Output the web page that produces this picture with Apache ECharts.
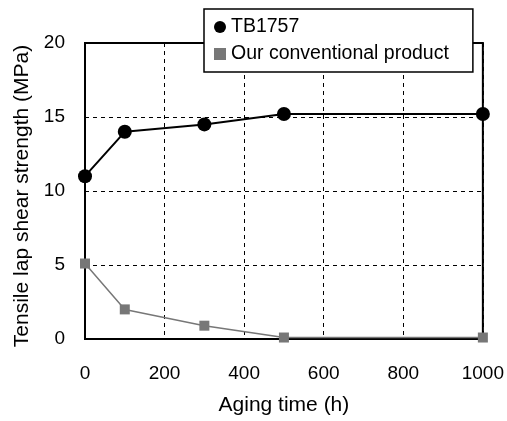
<!DOCTYPE html>
<html>
<head>
<meta charset="utf-8">
<script src="https://cdn.jsdelivr.net/npm/echarts@6/dist/echarts.min.js"></script>
<style>
  html, body { margin: 0; padding: 0; background: #fff; }
  #chart { width: 507px; height: 421px; }
</style>
</head>
<body>
<div id="chart"></div>
<script>
// data
const agingTime = [0, 100, 300, 500, 1000]
const tb1757 = [11.0, 14.0, 14.5, 15.2, 15.2]
const conventional = [5.1, 2.0, 0.9, 0.1, 0.1]
const seriesNames = ['TB1757', 'Our conventional product']

const chart = echarts.init(document.getElementById('chart'))
const font = 'Liberation Sans, Arial, sans-serif'

const pairs = (ys) => agingTime.map((x, i) => [x, ys[i]])

chart.setOption({
  animation: false,
  textStyle: { fontFamily: font },
  grid: {
    left: 85, right: 21, top: 43, bottom: 81,
    show: true, borderColor: '#000', borderWidth: 2, backgroundColor: 'transparent'
  },
  legend: {
    orient: 'vertical',
    left: 204, top: 9,
    padding: [7, 24, 7, 10],
    itemGap: 5,
    backgroundColor: '#fff',
    borderColor: '#000',
    borderWidth: 1.5,
    itemWidth: 12, itemHeight: 12,
    textStyle: { fontSize: 19.5, lineHeight: 22, color: '#000', fontFamily: font },
    data: [
      { name: seriesNames[0], icon: 'circle' },
      { name: seriesNames[1], icon: 'rect', itemStyle: { color: '#777' } }
    ]
  },
  xAxis: {
    type: 'value',
    min: 0, max: 1000, interval: 200,
    name: 'Aging time (h)',
    nameLocation: 'middle',
    nameGap: 56,
    nameTextStyle: { fontSize: 21, color: '#000', fontFamily: font },
    axisLine: { show: true, lineStyle: { color: '#000', width: 2 } },
    axisTick: { show: false },
    axisLabel: { fontSize: 19, color: '#000', margin: 25, fontFamily: font, formatter: (v) => String(v) },
    splitLine: { show: true, lineStyle: { color: '#000', type: [4, 4], width: 1 } }
  },
  yAxis: {
    type: 'value',
    min: 0, max: 20, interval: 5,
    name: 'Tensile lap shear strength (MPa)',
    nameLocation: 'middle',
    nameGap: 52,
    nameTextStyle: { fontSize: 21, color: '#000', fontFamily: font, padding: [0, 10, 0, 0] },
    axisLine: { show: true, lineStyle: { color: '#000', width: 2 } },
    axisTick: { show: false },
    axisLabel: { fontSize: 19, color: '#000', margin: 20, fontFamily: font },
    splitLine: { show: true, lineStyle: { color: '#000', type: [4, 4], width: 1 } }
  },
  series: [
    {
      name: seriesNames[0],
      type: 'line',
      data: pairs(tb1757),
      clip: false,
      z: 4,
      symbol: 'circle',
      symbolSize: 14,
      itemStyle: { color: '#000' },
      lineStyle: { color: '#000', width: 2 }
    },
    {
      name: seriesNames[1],
      type: 'line',
      data: pairs(conventional),
      clip: false,
      z: 3,
      symbol: 'rect',
      symbolSize: 10,
      itemStyle: { color: '#777' },
      lineStyle: { color: '#777', width: 1.5 }
    }
  ]
})
</script>
</body>
</html>
